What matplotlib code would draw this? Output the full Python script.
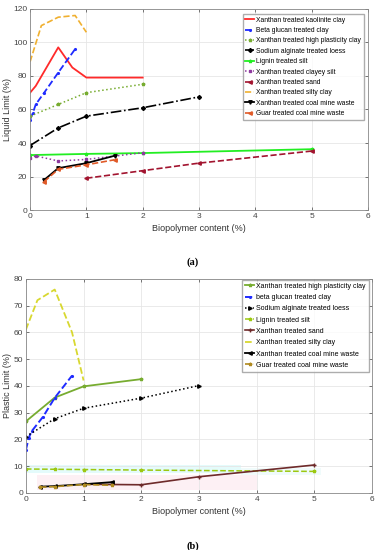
import matplotlib.pyplot as plt
from matplotlib.patches import Rectangle

# ---- (a) liquid limit ----
ll_kaolinite_x = [0, 0.1, 0.5, 0.75, 1, 2]
ll_kaolinite_y = [70, 74, 97, 85, 79, 79]
ll_beta_x = [0, 0.05, 0.1, 0.25, 0.5, 0.8]
ll_beta_y = [54, 58, 63, 70, 82, 96]
ll_highplast_x = [0, 0.5, 1, 2]
ll_highplast_y = [56, 63, 70, 75]
ll_alginate_x = [0, 0.5, 1, 2, 3]
ll_alginate_y = [38.5, 49, 56, 61, 67.5]
ll_lignin_x = [0, 1, 2, 5]
ll_lignin_y = [32.8, 33.5, 34, 36.3]
ll_clayeysilt_x = [0, 0.1, 0.5, 1, 2]
ll_clayeysilt_y = [31, 32.3, 29.3, 30.2, 34.2]
ll_sand_x = [1, 2, 3, 5]
ll_sand_y = [19, 23.5, 28, 35.2]
ll_siltyclay_x = [0, 0.2, 0.5, 0.8, 1]
ll_siltyclay_y = [88.5, 110, 115, 116, 106]
ll_coal_x = [0.25, 0.5, 1, 1.5]
ll_coal_y = [18, 25, 28, 32.4]
ll_guar_x = [0.25, 0.5, 1, 1.5]
ll_guar_y = [17, 24.3, 27, 30]

# ---- (b) plastic limit ----
pl_highplast_x = [0, 0.5, 1, 2]
pl_highplast_y = [26.7, 35.6, 39.8, 42.5]
pl_beta_x = [0, 0.05, 0.1, 0.3, 0.5, 0.8]
pl_beta_y = [16, 20.5, 23, 28.5, 35.5, 43.8]
pl_alginate_x = [0, 0.5, 1, 2, 3]
pl_alginate_y = [21, 27.7, 31.6, 35.4, 40.1]
pl_lignin_x = [0, 0.5, 1, 2, 5]
pl_lignin_y = [8.9, 8.8, 8.7, 8.5, 8.0]
pl_sand_x = [1, 2, 3, 5]
pl_sand_y = [3.2, 3.0, 6.0, 10.4]
pl_siltyclay_x = [0, 0.2, 0.5, 0.8, 1]
pl_siltyclay_y = [61, 72, 76, 60, 42]
pl_coal_x = [0.25, 0.5, 1, 1.5]
pl_coal_y = [2.3, 2.5, 3.2, 4.0]
pl_guar_x = [0.25, 0.5, 1, 1.5]
pl_guar_y = [2.1, 2.3, 3.1, 2.8]

plt.rcParams['font.family'] = ['Liberation Sans', 'DejaVu Sans']

fig = plt.figure(figsize=(3.86, 5.5), dpi=100)
ax1 = fig.add_axes([0.078, 0.618, 0.875, 0.366])
ax2 = fig.add_axes([0.067, 0.104, 0.897, 0.389])

ms = 2.5
ax1.plot(ll_kaolinite_x, ll_kaolinite_y, '-', color='#ff2a2a', lw=1.3, label='Xanthan treated kaolinite clay')
ax1.plot(ll_beta_x, ll_beta_y, '--', color='#1f2bff', lw=1.3, marker='.', ms=ms, label='Beta glucan treated clay')
ax1.plot(ll_highplast_x, ll_highplast_y, ':', color='#77ac30', lw=1.1, marker='*', ms=ms, label='Xanthan treated high plasticity clay')
ax1.plot(ll_alginate_x, ll_alginate_y, '-.', color='black', lw=1.2, marker='D', ms=2, label='Sodium alginate treated loess')
ax1.plot(ll_lignin_x, ll_lignin_y, '-', color='#22ee22', lw=1.3, marker='*', ms=ms, label='Lignin treated silt')
ax1.plot(ll_clayeysilt_x, ll_clayeysilt_y, ':', color='#8e3a9e', lw=1.1, marker='s', ms=2, label='Xanthan treated clayey silt')
ax1.plot(ll_sand_x, ll_sand_y, '--', color='#a2142f', lw=1.2, marker='<', ms=ms, label='Xanthan treated sand')
ax1.plot(ll_siltyclay_x, ll_siltyclay_y, '--', color='#f0b030', lw=1.2, label='Xanthan treated silty clay')
ax1.plot(ll_coal_x, ll_coal_y, '-', color='black', lw=1.3, marker='v', ms=ms, label='Xanthan treated coal mine waste')
ax1.plot(ll_guar_x, ll_guar_y, '--', color='#e05a28', lw=1.2, marker='<', ms=ms, label='Guar treated coal mine waste')

ax1.set_xlim(0, 6)
ax1.set_ylim(0, 120)
ax1.set_yticks(range(0, 121, 20))
ax1.set_ylabel('Liquid Limit (%)', fontsize=6.5, color='#333333', labelpad=1)
ax1.set_xlabel('Biopolymer content (%)', fontsize=6.5, color='#333333', labelpad=3)
ax1.legend(loc='upper right', bbox_to_anchor=(0.988, 0.975), fontsize=4.9, frameon=True,
           fancybox=False, edgecolor='#999999', handlelength=1.3, handletextpad=0.3,
           labelspacing=0.5, borderpad=0.4, borderaxespad=0)

# faint highlight behind the low-value lines (as in the scanned figure)
ax2.add_patch(Rectangle((0, 7.3), 3.72, 3.2, color='#e4fbfb', lw=0, zorder=0.5))
ax2.add_patch(Rectangle((3.72, 6.8), 1.4, 2.6, color='#f0fbfb', lw=0, zorder=0.5))
ax2.add_patch(Rectangle((0.2, 1.0), 3.8, 5.5, color='#fdf0f4', lw=0, zorder=0.5))

ax2.plot(pl_highplast_x, pl_highplast_y, '-', color='#77ac30', lw=1.3, marker='*', ms=ms, label='Xanthan treated high plasticity clay')
ax2.plot(pl_beta_x, pl_beta_y, '--', color='#1f2bff', lw=1.4, marker='.', ms=ms, label='beta glucan treated clay')
ax2.plot(pl_alginate_x, pl_alginate_y, ':', color='black', lw=1.1, marker='>', ms=ms, label='Sodium alginate treated loess')
ax2.plot(pl_lignin_x, pl_lignin_y, '--', color='#9cc810', lw=1.1, marker='*', ms=ms, label='Lignin treated silt')
ax2.plot(pl_sand_x, pl_sand_y, '-', color='#6e2a2a', lw=1.2, marker='+', ms=3, label='Xanthan treated sand')
ax2.plot(pl_siltyclay_x, pl_siltyclay_y, '--', color='#d8d830', lw=1.3, label='Xanthan treated silty clay')
ax2.plot(pl_coal_x, pl_coal_y, '-', color='black', lw=1.3, marker='<', ms=ms, label='Xanthan treated coal mine waste')
ax2.plot(pl_guar_x, pl_guar_y, '--', color='#b08a20', lw=1.2, marker='*', ms=ms, label='Guar treated coal mine waste')

ax2.set_xlim(0, 6)
ax2.set_ylim(0, 80)
ax2.set_yticks(range(0, 81, 10))
ax2.set_ylabel('Plastic Limit (%)', fontsize=6.5, color='#333333', labelpad=1)
ax2.set_xlabel('Biopolymer content (%)', fontsize=6.5, color='#333333', labelpad=3)
ax2.legend(loc='upper right', bbox_to_anchor=(0.99, 0.995), fontsize=5.0, frameon=True,
           fancybox=False, edgecolor='#999999', handlelength=1.3, handletextpad=0.3,
           labelspacing=0.62, borderpad=0.4, borderaxespad=0)

for ax in (ax1, ax2):
    ax.grid(True, color='#e6e6e6', lw=0.6)
    ax.set_axisbelow(True)
    ax.tick_params(labelsize=6, colors='#444444', length=2, width=0.5, pad=2,
                   direction='in', top=True, right=True)
    for s in ax.spines.values():
        s.set_color('#888888')
        s.set_linewidth(0.6)

fig.text(0.5, 1 - 262 / 550, '(a)', ha='center', va='center', fontsize=7.5, fontweight='bold', family='Liberation Serif')
fig.text(0.5, 1 - 546 / 550, '(b)', ha='center', va='center', fontsize=7.5, fontweight='bold', family='Liberation Serif')

fig.savefig('out.png', dpi=100)
